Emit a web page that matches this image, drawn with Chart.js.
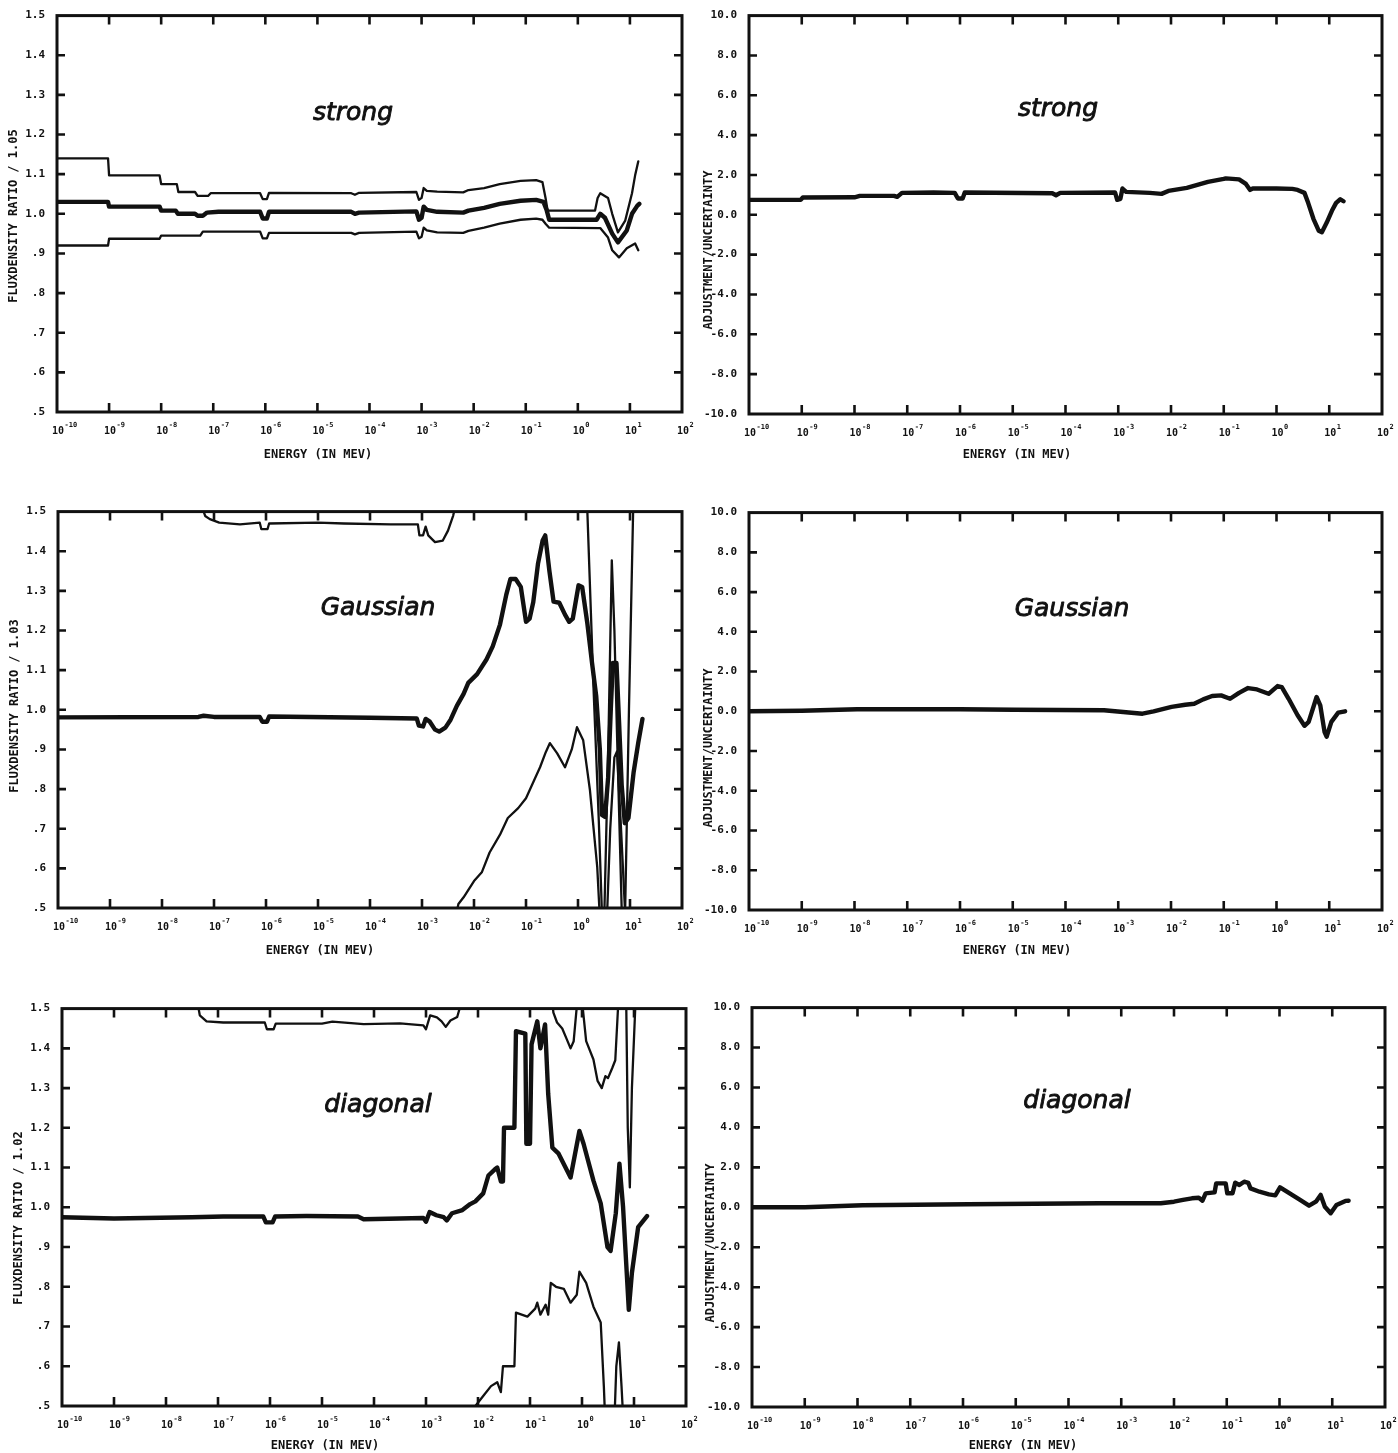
<!DOCTYPE html>
<html>
<head>
<meta charset="utf-8">
<script src="https://cdn.jsdelivr.net/npm/chart.js@4.4.1/dist/chart.umd.min.js"></script>
<style>
  body { margin: 0; background: #fff; }
  #sheet { position: relative; width: 1398px; height: 1453px; overflow: hidden; }
  #sheet canvas { position: absolute; }
</style>
</head>
<body>
<div id="sheet"></div>
<script>
// Energy axis: decades 1e-10 .. 1e2 MeV (stored as log10 E)
const decades = [-10, -9, -8, -7, -6, -5, -4, -3, -2, -1, 0, 1, 2];

// ---- strong: flux density ratio / 1.05 (central, +1 sigma, -1 sigma) ----
const strongMid = [[-10,1.03],[-9.02,1.03],[-9.0,1.018],[-8.03,1.018],[-8.0,1.008],[-7.72,1.008],[-7.68,1.0],[-7.35,1.0],[-7.3,0.995],[-7.2,0.995],[-7.12,1.003],[-6.9,1.005],[-6.1,1.005],[-6.05,0.988],[-5.97,0.988],[-5.93,1.005],[-4.35,1.005],[-4.28,1.0],[-4.2,1.003],[-3.1,1.006],[-3.05,0.985],[-3.0,0.99],[-2.96,1.018],[-2.9,1.01],[-2.7,1.005],[-2.2,1.003],[-2.1,1.008],[-1.8,1.015],[-1.5,1.025],[-1.1,1.033],[-0.8,1.035],[-0.66,1.03],[-0.6,1.01],[-0.55,0.985],[0.36,0.985],[0.43,1.0],[0.52,0.99],[0.66,0.95],[0.77,0.928],[0.94,0.958],[1.04,1.0],[1.14,1.02],[1.18,1.025]];
const strongHi = [[-10,1.14],[-9.02,1.14],[-9.0,1.097],[-8.03,1.097],[-8.0,1.075],[-7.7,1.075],[-7.67,1.055],[-7.35,1.055],[-7.3,1.045],[-7.1,1.045],[-7.05,1.052],[-6.1,1.052],[-6.05,1.037],[-5.97,1.037],[-5.93,1.053],[-4.35,1.052],[-4.28,1.048],[-4.2,1.053],[-3.1,1.055],[-3.05,1.035],[-3.0,1.04],[-2.96,1.065],[-2.9,1.058],[-2.7,1.056],[-2.2,1.054],[-2.1,1.06],[-1.8,1.065],[-1.5,1.075],[-1.1,1.083],[-0.8,1.085],[-0.68,1.08],[-0.62,1.04],[-0.58,1.008],[0.33,1.008],[0.38,1.04],[0.43,1.052],[0.58,1.04],[0.66,1.0],[0.77,0.953],[0.91,0.983],[1.04,1.052],[1.1,1.097],[1.16,1.132]];
const strongLo = [[-10,0.92],[-9.02,0.92],[-9.0,0.937],[-8.03,0.937],[-8.0,0.945],[-7.25,0.945],[-7.2,0.955],[-6.1,0.955],[-6.05,0.938],[-5.97,0.938],[-5.93,0.952],[-4.35,0.952],[-4.28,0.948],[-4.2,0.952],[-3.1,0.955],[-3.05,0.938],[-3.0,0.942],[-2.96,0.965],[-2.9,0.958],[-2.7,0.953],[-2.2,0.952],[-2.1,0.957],[-1.8,0.965],[-1.5,0.975],[-1.1,0.985],[-0.8,0.988],[-0.68,0.985],[-0.62,0.975],[-0.55,0.965],[0.43,0.964],[0.58,0.94],[0.66,0.908],[0.79,0.89],[0.94,0.913],[1.1,0.925],[1.16,0.908]];
// strong: adjustment / uncertainty
const strongAdj = [[-10,0.75],[-9.02,0.75],[-8.98,0.87],[-8.0,0.88],[-7.9,0.95],[-7.25,0.95],[-7.19,0.9],[-7.1,1.1],[-6.5,1.12],[-6.1,1.1],[-6.04,0.82],[-5.95,0.82],[-5.91,1.12],[-4.25,1.08],[-4.18,0.98],[-4.1,1.1],[-3.06,1.12],[-3.02,0.75],[-2.96,0.8],[-2.92,1.32],[-2.85,1.15],[-2.4,1.1],[-2.18,1.05],[-2.05,1.2],[-1.7,1.35],[-1.3,1.65],[-1.0,1.8],[-0.96,1.83],[-0.71,1.78],[-0.58,1.55],[-0.5,1.25],[-0.45,1.32],[0.0,1.32],[0.3,1.3],[0.4,1.25],[0.53,1.1],[0.6,0.6],[0.7,-0.2],[0.8,-0.8],[0.86,-0.87],[0.95,-0.4],[1.05,0.2],[1.13,0.6],[1.21,0.78],[1.27,0.68]];

// ---- Gaussian: flux density ratio / 1.03 ----
const gaussMid = [[-10,0.981],[-7.3,0.982],[-7.2,0.985],[-7.0,0.982],[-6.12,0.982],[-6.07,0.97],[-5.98,0.97],[-5.94,0.983],[-4.0,0.98],[-3.1,0.978],[-3.06,0.96],[-2.98,0.958],[-2.93,0.977],[-2.85,0.97],[-2.75,0.95],[-2.67,0.945],[-2.55,0.955],[-2.45,0.975],[-2.33,1.01],[-2.2,1.04],[-2.11,1.068],[-1.94,1.09],[-1.76,1.127],[-1.64,1.16],[-1.5,1.215],[-1.38,1.29],[-1.3,1.33],[-1.2,1.33],[-1.1,1.31],[-1.0,1.222],[-0.93,1.23],[-0.86,1.272],[-0.77,1.368],[-0.68,1.427],[-0.63,1.44],[-0.55,1.35],[-0.47,1.273],[-0.36,1.27],[-0.25,1.24],[-0.17,1.222],[-0.1,1.23],[0.01,1.314],[0.08,1.31],[0.18,1.218],[0.27,1.118],[0.35,1.035],[0.42,0.9],[0.46,0.735],[0.52,0.73],[0.58,0.83],[0.63,1.0],[0.67,1.118],[0.74,1.118],[0.79,0.968],[0.84,0.81],[0.9,0.714],[0.97,0.727],[1.07,0.843],[1.16,0.918],[1.24,0.977]];
const gaussHi = [[-10,1.52],[-7.25,1.52],[-7.17,1.489],[-7.08,1.481],[-6.9,1.472],[-6.5,1.468],[-6.12,1.472],[-6.09,1.456],[-5.97,1.456],[-5.94,1.47],[-5.0,1.472],[-4.5,1.47],[-3.6,1.468],[-3.08,1.468],[-3.05,1.44],[-2.98,1.44],[-2.93,1.462],[-2.88,1.44],[-2.75,1.423],[-2.6,1.427],[-2.5,1.452],[-2.4,1.49],[-2.33,1.53],[0.1,1.6],[0.18,1.5],[0.3,1.05],[0.4,0.72],[0.47,0.45],[0.5,0.45],[0.58,0.89],[0.65,1.377],[0.7,1.2],[0.75,0.94],[0.85,0.45],[0.9,0.45],[0.98,1.0],[1.06,1.5],[1.1,1.6]];
const gaussLo = [[-10,0.45],[-2.35,0.48],[-2.3,0.51],[-2.2,0.527],[-2.0,0.568],[-1.85,0.59],[-1.7,0.64],[-1.5,0.685],[-1.35,0.727],[-1.15,0.752],[-1.0,0.777],[-0.8,0.835],[-0.73,0.855],[-0.62,0.893],[-0.54,0.916],[-0.4,0.89],[-0.25,0.855],[-0.12,0.9],[-0.02,0.956],[0.1,0.923],[0.23,0.797],[0.37,0.603],[0.43,0.45],[0.55,0.45],[0.62,0.7],[0.7,0.88],[0.75,0.895],[0.82,0.72],[0.92,0.45],[1.3,0.45]];
// Gaussian: adjustment / uncertainty
const gaussAdj = [[-10,0.0],[-9.0,0.03],[-7.95,0.1],[-6.0,0.1],[-4.97,0.08],[-3.27,0.05],[-2.75,-0.07],[-2.54,-0.12],[-2.33,0.0],[-1.99,0.22],[-1.73,0.33],[-1.56,0.38],[-1.39,0.6],[-1.22,0.77],[-1.05,0.8],[-0.88,0.63],[-0.71,0.93],[-0.54,1.17],[-0.37,1.1],[-0.15,0.88],[0.02,1.27],[0.1,1.22],[0.23,0.63],[0.4,-0.2],[0.53,-0.73],[0.61,-0.53],[0.76,0.72],[0.83,0.3],[0.91,-1.03],[0.95,-1.28],[1.04,-0.53],[1.17,-0.07],[1.3,0.0]];

// ---- diagonal: flux density ratio / 1.02 ----
const diagMid = [[-10,0.975],[-9.0,0.972],[-7.5,0.975],[-6.9,0.977],[-6.13,0.977],[-6.08,0.962],[-5.95,0.962],[-5.9,0.977],[-5.3,0.978],[-4.31,0.977],[-4.2,0.97],[-3.5,0.972],[-3.05,0.973],[-3.0,0.964],[-2.93,0.988],[-2.8,0.98],[-2.66,0.975],[-2.6,0.967],[-2.5,0.985],[-2.3,0.993],[-2.15,1.008],[-2.05,1.015],[-1.9,1.035],[-1.8,1.08],[-1.68,1.095],[-1.63,1.1],[-1.56,1.065],[-1.52,1.065],[-1.5,1.2],[-1.3,1.2],[-1.27,1.443],[-1.09,1.437],[-1.07,1.16],[-1.0,1.16],[-0.97,1.41],[-0.86,1.468],[-0.8,1.4],[-0.71,1.46],[-0.65,1.285],[-0.57,1.15],[-0.45,1.135],[-0.22,1.075],[-0.05,1.192],[0.03,1.16],[0.22,1.067],[0.36,1.01],[0.49,0.9],[0.55,0.89],[0.65,0.985],[0.72,1.11],[0.79,1.0],[0.9,0.742],[0.96,0.835],[1.08,0.95],[1.25,0.978]];
const diagHi = [[-10,1.52],[-7.4,1.52],[-7.35,1.483],[-7.22,1.468],[-6.9,1.465],[-6.1,1.465],[-6.06,1.448],[-5.93,1.448],[-5.89,1.462],[-5.0,1.462],[-4.8,1.467],[-4.2,1.461],[-3.5,1.463],[-3.05,1.458],[-3.0,1.448],[-2.92,1.483],[-2.79,1.478],[-2.7,1.468],[-2.62,1.454],[-2.53,1.47],[-2.4,1.479],[-2.31,1.52],[-0.6,1.55],[-0.55,1.49],[-0.48,1.465],[-0.38,1.45],[-0.3,1.425],[-0.22,1.4],[-0.16,1.418],[-0.09,1.52],[0.0,1.52],[0.08,1.418],[0.22,1.372],[0.3,1.318],[0.38,1.3],[0.45,1.33],[0.5,1.325],[0.58,1.35],[0.64,1.37],[0.7,1.52],[0.85,1.52],[0.88,1.2],[0.92,1.05],[0.96,1.3],[1.03,1.52]];
const diagLo = [[-10,0.45],[-2.1,0.48],[-2.05,0.5],[-1.9,0.525],[-1.75,0.55],[-1.63,0.56],[-1.56,0.535],[-1.52,0.6],[-1.3,0.6],[-1.27,0.735],[-1.05,0.725],[-0.9,0.745],[-0.86,0.76],[-0.8,0.73],[-0.7,0.755],[-0.65,0.73],[-0.6,0.81],[-0.5,0.8],[-0.35,0.795],[-0.22,0.76],[-0.1,0.78],[-0.05,0.838],[0.08,0.81],[0.22,0.75],[0.36,0.71],[0.42,0.55],[0.45,0.45],[0.62,0.45],[0.66,0.6],[0.71,0.66],[0.76,0.55],[0.8,0.45],[1.3,0.45]];
// diagonal: adjustment / uncertainty
const diagAdj = [[-10,0.0],[-9.0,0.0],[-7.9,0.1],[-5.9,0.15],[-3.4,0.2],[-2.25,0.2],[-2.0,0.28],[-1.83,0.37],[-1.66,0.45],[-1.53,0.48],[-1.46,0.33],[-1.4,0.7],[-1.23,0.75],[-1.2,1.2],[-1.02,1.2],[-0.99,0.7],[-0.89,0.7],[-0.84,1.23],[-0.76,1.12],[-0.67,1.28],[-0.59,1.22],[-0.55,0.95],[-0.38,0.78],[-0.2,0.65],[-0.08,0.6],[0.01,1.0],[0.14,0.78],[0.39,0.37],[0.56,0.08],[0.69,0.28],[0.78,0.62],[0.86,0.03],[0.97,-0.3],[1.08,0.12],[1.25,0.32],[1.31,0.33]];

const INK = '#111';
const MONO = '"DejaVu Sans Mono", "Liberation Mono", monospace';
const PAD_L = 56, PAD_T = 10, PAD_R = 16, PAD_B = 48;

const ratioAxis = { min: 0.5, max: 1.5, step: 0.1,
  fmt: v => { const s = (Math.round(v * 10) / 10).toFixed(1); return s.startsWith('0') ? s.slice(1) : s; } };
const adjAxis = { min: -10, max: 10, step: 2,
  fmt: v => (Math.round(v * 10) / 10).toFixed(1) };

const THICK = 4.4, THIN = 2.3;

const panels = [
  { box: [57, 15, 682, 412], axis: ratioAxis, yTitle: 'FLUXDENSITY RATIO / 1.05', yTitleAt: [14, 216],
    xTitleAt: [318, 455], label: 'strong', labelAt: [353, 120],
    series: [[strongHi, THIN], [strongLo, THIN], [strongMid, THICK]] },
  { box: [749, 15, 1382, 414], axis: adjAxis, yTitle: 'ADJUSTMENT/UNCERTAINTY', yTitleAt: [709, 250],
    xTitleAt: [1017, 455], label: 'strong', labelAt: [1058, 116],
    series: [[strongAdj, THICK]] },
  { box: [58, 511, 682, 908], axis: ratioAxis, yTitle: 'FLUXDENSITY RATIO / 1.03', yTitleAt: [15, 706],
    xTitleAt: [320, 951], label: 'Gaussian', labelAt: [378, 615],
    series: [[gaussHi, THIN], [gaussLo, THIN], [gaussMid, THICK]] },
  { box: [749, 512, 1382, 910], axis: adjAxis, yTitle: 'ADJUSTMENT/UNCERTAINTY', yTitleAt: [709, 748],
    xTitleAt: [1017, 951], label: 'Gaussian', labelAt: [1072, 616],
    series: [[gaussAdj, THICK]] },
  { box: [62, 1008, 686, 1406], axis: ratioAxis, yTitle: 'FLUXDENSITY RATIO / 1.02', yTitleAt: [19, 1218],
    xTitleAt: [325, 1446], label: 'diagonal', labelAt: [378, 1112],
    series: [[diagHi, THIN], [diagLo, THIN], [diagMid, THICK]] },
  { box: [752, 1007, 1385, 1407], axis: adjAxis, yTitle: 'ADJUSTMENT/UNCERTAINTY', yTitleAt: [711, 1243],
    xTitleAt: [1023, 1446], label: 'diagonal', labelAt: [1077, 1108],
    series: [[diagAdj, THICK]] },
];

function framePlugin(p, offX, offY) {
  return {
    id: 'frame',
    afterDraw(chart) {
      const { ctx, chartArea: a, scales: { x, y } } = chart;
      ctx.save();
      ctx.strokeStyle = INK;
      ctx.fillStyle = INK;
      ctx.lineCap = 'butt';

      // border
      ctx.lineWidth = 3;
      ctx.strokeRect(a.left, a.top, a.right - a.left, a.bottom - a.top);

      // inward tick marks on all four sides
      ctx.lineWidth = 2.6;
      ctx.beginPath();
      decades.slice(1, -1).forEach(d => {
        const px = x.getPixelForValue(Math.pow(10, d));
        ctx.moveTo(px, a.top); ctx.lineTo(px, a.top + 9);
        ctx.moveTo(px, a.bottom); ctx.lineTo(px, a.bottom - 9);
      });
      y.ticks.slice(1, -1).forEach(t => {
        const py = y.getPixelForValue(t.value);
        ctx.moveTo(a.left, py); ctx.lineTo(a.left + 8, py);
        ctx.moveTo(a.right, py); ctx.lineTo(a.right - 8, py);
      });
      ctx.stroke();

      // energy tick labels: 10 with a raised exponent
      ctx.textBaseline = 'alphabetic';
      decades.forEach(d => {
        const px = x.getPixelForValue(Math.pow(10, d)) + 1;
        ctx.font = 'bold 10px ' + MONO;
        ctx.textAlign = 'center';
        ctx.fillText('10', px, a.bottom + 22);
        const w = ctx.measureText('10').width;
        ctx.font = 'bold 7px ' + MONO;
        ctx.textAlign = 'left';
        ctx.fillText(String(d), px + w / 2 + 0.5, a.bottom + 15);
      });

      // axis titles
      ctx.font = 'bold 12px ' + MONO;
      ctx.textAlign = 'center';
      ctx.textBaseline = 'middle';
      ctx.fillText('ENERGY (IN MEV)', p.xTitleAt[0] - offX, p.xTitleAt[1] - offY);
      ctx.save();
      ctx.translate(p.yTitleAt[0] - offX, p.yTitleAt[1] - offY);
      ctx.rotate(-Math.PI / 2);
      ctx.fillText(p.yTitle, 0, 0);
      ctx.restore();

      // panel name, slightly heavier than the plain oblique face
      ctx.font = 'oblique 25px "DejaVu Sans", sans-serif';
      ctx.textBaseline = 'alphabetic';
      ctx.lineWidth = 0.9;
      ctx.lineJoin = 'round';
      const lx = p.labelAt[0] - offX, ly = p.labelAt[1] - offY;
      ctx.fillText(p.label, lx, ly);
      ctx.strokeText(p.label, lx, ly);
      ctx.restore();
    }
  };
}

function makePanel(p) {
  const [l, t, r, b] = p.box;
  const offX = l - PAD_L, offY = t - PAD_T;
  const w = r - l + PAD_L + PAD_R, h = b - t + PAD_T + PAD_B;
  const canvas = document.createElement('canvas');
  canvas.width = w; canvas.height = h;
  canvas.style.left = offX + 'px';
  canvas.style.top = offY + 'px';
  canvas.style.width = w + 'px';
  canvas.style.height = h + 'px';
  document.getElementById('sheet').appendChild(canvas);

  const ax = p.axis;
  new Chart(canvas, {
    type: 'line',
    data: {
      datasets: p.series.map(([pts, width]) => ({
        data: pts.map(([lg, v]) => ({ x: Math.pow(10, lg), y: v })),
        borderColor: INK,
        borderWidth: width,
        borderJoinStyle: 'round',
        borderCapStyle: 'round',
        pointRadius: 0,
        tension: 0,
        fill: false,
      })),
    },
    options: {
      responsive: false,
      animation: false,
      events: [],
      layout: { padding: { top: PAD_T, right: PAD_R, left: 0, bottom: 0 } },
      plugins: { legend: { display: false }, tooltip: { enabled: false }, title: { display: false } },
      scales: {
        x: {
          type: 'logarithmic',
          min: 1e-10,
          max: 1e2,
          grid: { display: false },
          border: { display: false },
          ticks: { display: false },
          afterFit: (s) => { s.height = PAD_B; },
        },
        y: {
          type: 'linear',
          min: ax.min,
          max: ax.max,
          grid: { display: false },
          border: { display: false },
          ticks: {
            stepSize: ax.step,
            autoSkip: false,
            padding: 4,
            color: INK,
            font: { family: MONO, size: 11, weight: 'bold' },
            callback: (v) => ax.fmt(v),
          },
          afterFit: (s) => { s.width = PAD_L; },
        },
      },
    },
    plugins: [framePlugin(p, offX, offY)],
  });
}

panels.forEach(makePanel);
</script>
</body>
</html>
